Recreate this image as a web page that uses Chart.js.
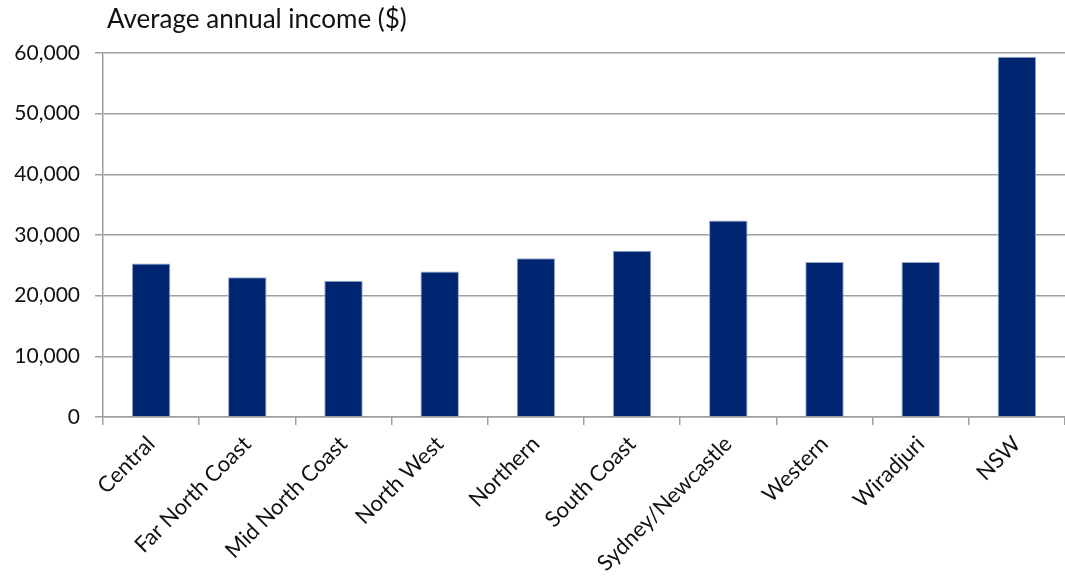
<!DOCTYPE html>
<html>
<head>
<meta charset="utf-8">
<script src="https://cdn.jsdelivr.net/npm/chart.js@4/dist/chart.umd.min.js"></script>
<style>
  html, body { margin: 0; padding: 0; background: #fff; }
  #wrap { width: 1065px; height: 582px; position: relative; }
</style>
</head>
<body>
<div id="wrap"><canvas id="c" width="1065" height="582"></canvas></div>
<script>
const categories = ["Central", "Far North Coast", "Mid North Coast", "North West", "Northern", "South Coast", "Sydney/Newcastle", "Western", "Wiradjuri", "NSW"];
const incomeValues = [25300, 23050, 22450, 24000, 26150, 27400, 32400, 25550, 25550, 59400];
const yTickValues = [0, 10000, 20000, 30000, 40000, 50000, 60000];
const axisTitle = "Average annual income ($)";

const FONT = "Lato, 'Open Sans', sans-serif";

const titlePlugin = {
  id: 'topTitle',
  afterDraw(chart) {
    const ctx = chart.ctx;
    ctx.save();
    ctx.font = "26px " + FONT;
    ctx.fillStyle = "#111";
    ctx.textBaseline = "middle";
    ctx.textAlign = "left";
    ctx.fillText(axisTitle, chart.chartArea.left + 4, 20);
    ctx.restore();
  }
};

new Chart(document.getElementById('c'), {
  type: 'bar',
  data: {
    labels: categories,
    datasets: [{
      data: incomeValues,
      backgroundColor: '#002672',
      borderColor: '#9aa9cc',
      borderWidth: 1,
      categoryPercentage: 1.0,
      barPercentage: 0.4
    }]
  },
  options: {
    responsive: false,
    animation: false,
    layout: { padding: { top: 53, right: 0, left: 0, bottom: 0 } },
    plugins: { legend: { display: false }, tooltip: { enabled: false } },
    scales: {
      x: {
        offset: true,
        grid: { offset: true, drawOnChartArea: false, drawTicks: true, tickLength: 8, color: '#a0a0a0', lineWidth: 1.5 },
        border: { display: true, color: '#a0a0a0', width: 1.5 },
        ticks: { maxRotation: 45, minRotation: 45, autoSkip: false, color: '#111', font: { family: FONT, size: 22 }, padding: 6 },
        afterFit(scale) { scale.height = 165; }
      },
      y: {
        min: 0, max: 60000,
        afterBuildTicks(scale) { scale.ticks = yTickValues.map(v => ({ value: v })); },
        grid: { color: '#a0a0a0', lineWidth: 1.5, tickLength: 8 },
        border: { display: true, color: '#a0a0a0', width: 1.5 },
        ticks: {
          color: '#111', font: { family: FONT, size: 21 }, padding: 15,
          callback: v => v.toLocaleString('en-US')
        },
        afterFit(scale) { scale.width = 103; }
      }
    }
  },
  plugins: [titlePlugin]
});
</script>
</body>
</html>
